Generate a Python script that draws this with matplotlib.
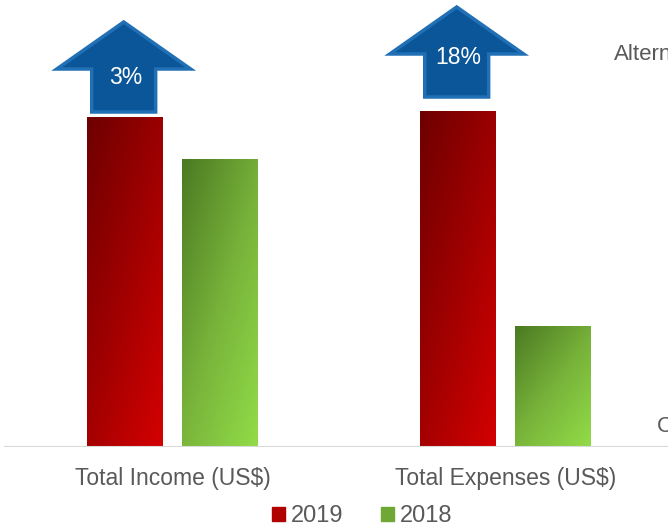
import numpy as np
import matplotlib.pyplot as plt
from matplotlib.patches import Polygon, Rectangle
from matplotlib.colors import LinearSegmentedColormap

plt.rcParams['font.family'] = ['Liberation Sans', 'DejaVu Sans']

categories = ['Total Income (US$)', 'Total Expenses (US$)']
years = ['2019', '2018']
values_2019 = [330, 336]
values_2018 = [288, 121]
changes = ['3%', '18%']

red_cmap = LinearSegmentedColormap.from_list('red', ['#6e0000', '#a00000', '#d40000'])
green_cmap = LinearSegmentedColormap.from_list('green', ['#4b7a22', '#77b23a', '#92dc48'])

fig = plt.figure(figsize=(6.68, 5.28), dpi=100)
ax = fig.add_axes([0, 81 / 528, 1, 447 / 528])
ax.axis('off')

width = 0.228
offset = 0.1426
x = np.arange(len(categories))

# diagonal gradient: dark top-left -> bright bottom-right
gy, gx = np.mgrid[0:1:100j, 0:1:100j]
grad = gx * 0.45 + gy * 0.55


def gradient_bar(xc, h, cmap):
    bar = ax.bar(xc, h, width=width, color='none', edgecolor='none')[0]
    im = ax.imshow(grad, cmap=cmap, extent=[xc - width / 2, xc + width / 2, 0, h],
                   origin='upper', aspect='auto', zorder=2)
    im.set_clip_path(bar)
    return bar


for i in range(len(categories)):
    gradient_bar(x[i] - offset, values_2019[i], red_cmap)
    gradient_bar(x[i] + offset, values_2018[i], green_cmap)

ax.set_xlim(-172.5 / 333, (668 - 172.5) / 333)
ax.set_ylim(0, 447)

# blue arrows above the 2019 bars
arrow_gaps = [5, 14]
text_shift = [-9, -3]
for i in range(len(categories)):
    xc = x[i] - offset - 0.004
    base = values_2019[i] + arrow_gaps[i]
    hw, sw = 0.201, 0.096
    shaft_top = base + 43
    tip = shaft_top + 47
    pts = [(xc - sw, base), (xc + sw, base), (xc + sw, shaft_top), (xc + hw, shaft_top),
           (xc, tip), (xc - hw, shaft_top), (xc - sw, shaft_top)]
    ax.add_patch(Polygon(pts, closed=True, facecolor='#0b5699', edgecolor='#2170b5',
                         linewidth=2.5, zorder=4, joinstyle='miter'))
    ax.text(xc + 0.006, shaft_top + text_shift[i], changes[i],
            color='white', fontsize=16.5, ha='center', va='center', zorder=5)

# baseline
ax.axhline(0, xmin=5 / 668, xmax=1, color='#d9d9d9', linewidth=1.5, zorder=3)

for i, c in enumerate(categories):
    fig.text((172.5 + 333 * i) / 668, 1 - 479 / 528, c, fontsize=16.5,
             color='#595959', ha='center', va='center')

fig.text(614 / 668, 1 - 55 / 528, 'Alternative', fontsize=16, color='#595959',
         ha='left', va='center')
fig.text(657 / 668, 1 - 427 / 528, 'C', fontsize=16, color='#595959',
         ha='left', va='center')

handles = [Rectangle((0, 0), 1, 1, color='#b00000'), Rectangle((0, 0), 1, 1, color='#6fa834')]
fig.legend(handles, years, loc='center', bbox_to_anchor=(362 / 668, 12 / 528), ncol=2,
           frameon=False, fontsize=17, handlelength=0.55, handleheight=0.55,
           handletextpad=0.25, columnspacing=1.6, labelcolor='#595959')

fig.savefig('out.png', dpi=100)
